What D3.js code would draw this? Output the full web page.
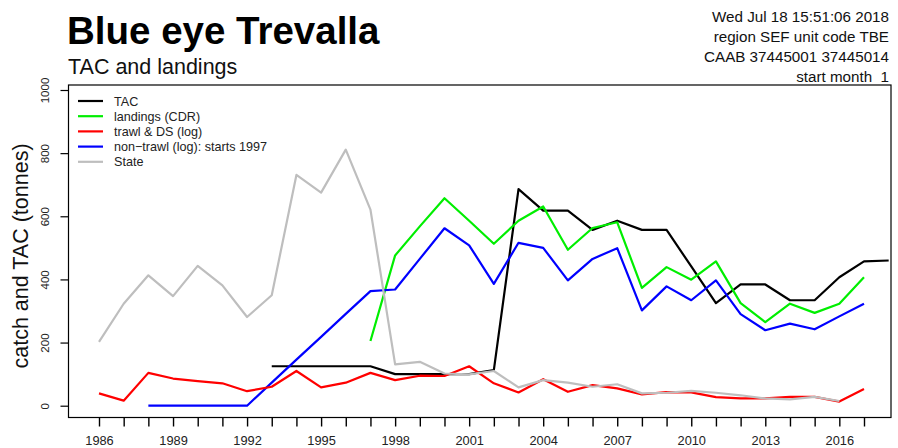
<!DOCTYPE html>
<html>
<head>
<meta charset="utf-8">
<script src="https://cdn.jsdelivr.net/npm/d3@7"></script>
<style>
  html, body { margin: 0; padding: 0; background: #fff; }
  svg { display: block; font-family: "Liberation Sans", Arial, sans-serif; }
</style>
</head>
<body>
<svg id="chart" width="898" height="448"></svg>
<script>
// Blue eye Trevalla: TAC and landings (tonnes) by year
const tacYears = d3.range(1993, 2019);
const tac = [125,125,125,125,125,100,100,100,100,113,686,618,618,557,586,557,557,441,325,384,384,334,334,407,457,460];

const landingsYears = d3.range(1997, 2018);
const landings = [205,476,568,657,586,513,586,631,494,563,581,373,439,399,457,325,265,323,294,323,407];

const trawlYears = d3.range(1986, 2018);
const trawl = [39,16,104,86,78,71,46,60,110,58,73,104,81,95,94,125,71,42,84,44,65,55,36,43,42,27,23,23,28,28,13,53];

const nonTrawlYears = d3.range(1988, 2018);
const nonTrawl = [0,0,0,0,0,73,146,218,291,363,368,465,562,508,386,516,500,397,465,499,302,378,334,397,290,239,260,242,283,323];

const stateYears = d3.range(1986, 2017);
const state = [202,323,413,347,443,381,281,350,731,675,811,621,131,139,102,99,110,58,81,73,60,68,39,41,47,41,33,23,20,28,15];

const yTicks = [0, 200, 400, 600, 800, 1000];
const xTickYears = d3.range(1986, 2018);
const xLabelYears = d3.range(1986, 2018, 3);

const seriesNames = ["TAC", "landings (CDR)", "trawl & DS (log)", "non\u2212trawl (log): starts 1997", "State"];
const seriesColors = ["#000000", "#00ee00", "#ff0000", "#0000ff", "#bebebe"];

const headerLines = ["Wed Jul 18 15:51:06 2018", "region SEF unit code TBE", "CAAB 37445001 37445014", "start month  1"];

const svg = d3.select("#chart");
const x = d3.scaleLinear().domain([1986, 2017]).range([99, 864]);
const y = d3.scaleLinear().domain([0, 1000]).range([405.7, 90]);

const box = { left: 68.5, right: 891, top: 85, bottom: 417.5 };

// plot frame
svg.append("rect")
  .attr("x", box.left).attr("y", box.top)
  .attr("width", box.right - box.left).attr("height", box.bottom - box.top)
  .attr("fill", "none").attr("stroke", "#000").attr("stroke-width", 1.2);

// y axis
const yAxis = svg.append("g")
  .attr("transform", `translate(${box.left},0)`)
  .call(d3.axisLeft(y).tickValues(yTicks).tickSize(8).tickSizeOuter(0).tickFormat(d3.format("d")));
yAxis.select(".domain").remove();
yAxis.selectAll(".tick line").attr("stroke-width", 1.2);
yAxis.selectAll(".tick text")
  .attr("x", null).attr("dy", null)
  .attr("transform", "translate(-20,0) rotate(-90)")
  .attr("text-anchor", "middle")
  .attr("font-size", 11.5)
  .attr("fill", "#222")
  .attr("font-family", "Liberation Sans, Arial, sans-serif");

// x axis
const xAxis = svg.append("g")
  .attr("transform", `translate(0,${box.bottom})`)
  .call(d3.axisBottom(x).tickValues(xTickYears).tickSize(9).tickSizeOuter(0)
    .tickFormat(d => xLabelYears.includes(d) ? String(d) : ""));
xAxis.select(".domain").remove();
xAxis.selectAll(".tick line").attr("stroke-width", 1.4);
xAxis.selectAll(".tick text")
  .attr("y", 27.5).attr("dy", null)
  .attr("font-size", 12.8)
  .attr("fill", "#222")
  .attr("font-family", "Liberation Sans, Arial, sans-serif");

// series lines
const line = d3.line().x(d => x(d[0])).y(d => y(d[1]));
const allSeries = [
  [tacYears, tac],
  [landingsYears, landings],
  [trawlYears, trawl],
  [nonTrawlYears, nonTrawl],
  [stateYears, state]
];
const drawOrder = [0, 1, 3, 2, 4];
drawOrder.forEach(i => {
  const [yrs, vals] = allSeries[i];
  svg.append("path")
    .datum(yrs.map((yr, k) => [yr, vals[k]]))
    .attr("d", line)
    .attr("fill", "none")
    .attr("stroke", seriesColors[i])
    .attr("stroke-width", 2.2)
    .attr("stroke-linejoin", "round");
});

// legend
const legend = svg.append("g");
seriesNames.forEach((name, i) => {
  const ly = 101 + i * 15.2;
  legend.append("line")
    .attr("x1", 78).attr("x2", 103).attr("y1", ly).attr("y2", ly)
    .attr("stroke", seriesColors[i]).attr("stroke-width", 2.2);
  legend.append("text")
    .attr("x", 114).attr("y", ly + 4.5)
    .attr("font-size", 12.6).attr("fill", "#222")
    .text(name);
});

// titles
svg.append("text")
  .attr("x", 67).attr("y", 43.5)
  .attr("font-size", 38.5).attr("font-weight", "bold").attr("fill", "#000")
  .text("Blue eye Trevalla");
svg.append("text")
  .attr("x", 68).attr("y", 74)
  .attr("font-size", 21.5).attr("fill", "#111")
  .text("TAC and landings");

headerLines.forEach((t, i) => {
  svg.append("text")
    .attr("x", 889).attr("y", 21.5 + i * 20.1)
    .attr("text-anchor", "end")
    .attr("font-size", 15.2).attr("fill", "#111")
    .style("white-space", "pre")
    .text(t);
});

// y axis title
svg.append("text")
  .attr("transform", "translate(28,256) rotate(-90)")
  .attr("text-anchor", "middle")
  .attr("font-size", 21.5).attr("fill", "#111")
  .text("catch and TAC (tonnes)");
</script>
</body>
</html>
